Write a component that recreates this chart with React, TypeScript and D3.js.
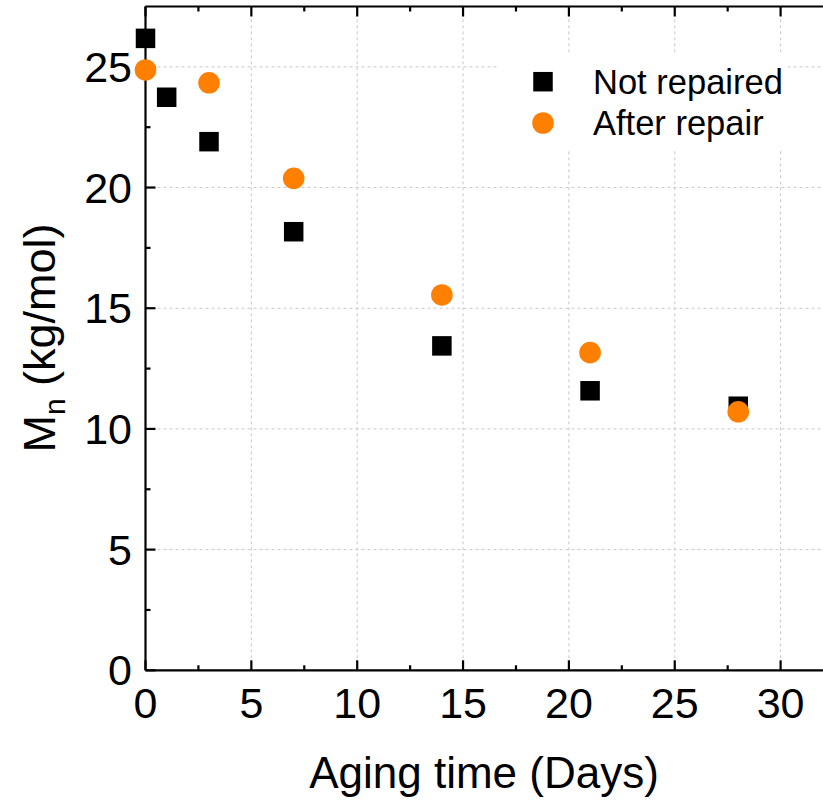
import React from 'react';
import * as d3 from 'd3';

// aging time in days, Mn in kg/mol
const daysNotRepaired = [0, 1, 3, 7, 14, 21, 28];
const mnNotRepaired = [26.18, 23.74, 21.9, 18.17, 13.44, 11.58, 10.94];
const daysAfterRepair = [0, 3, 7, 14, 21, 28];
const mnAfterRepair = [24.87, 24.34, 20.38, 15.55, 13.16, 10.71];
const xTicks = [0, 5, 10, 15, 20, 25, 30];
const yTicks = [0, 5, 10, 15, 20, 25];
const legendLabels = ['Not repaired', 'After repair'];

const W = 823;
const H = 804;
const font = '"Liberation Sans", Arial, Helvetica, sans-serif';
const orange = '#ff7f00';

const App = () => {
  const x = d3.scaleLinear().domain([0, 32]).range([145.5, 145.5 + 32 * 21.17]);
  const y = d3.scaleLinear().domain([0, 27.5]).range([670.3, 6.5]);
  const [x0, x1] = x.range();
  const [y0, y1] = y.range();

  const xMinor = d3.range(2.5, 32, 5);
  const yMinor = d3.range(2.5, 27.5, 5);

  const sq = 19.5;
  const r = 10.8;

  const notRepaired = daysNotRepaired.map((d, i) => ({ d, v: mnNotRepaired[i] }));
  const afterRepair = daysAfterRepair.map((d, i) => ({ d, v: mnAfterRepair[i] }));

  return (
    <svg width={W} height={H} style={{ position: 'absolute', left: 0, top: 0, background: '#fff' }} fontFamily={font}>
      {/* grid */}
      <g stroke="#c8c8c8" strokeWidth={1} strokeDasharray="3,3">
        {xTicks.filter(t => t > 0).map(t => (
          <line key={'gx' + t} x1={x(t)} x2={x(t)} y1={y0} y2={y1} />
        ))}
        {yTicks.filter(t => t > 0).map(t => (
          <line key={'gy' + t} x1={x0} x2={x1} y1={y(t)} y2={y(t)} />
        ))}
      </g>

      {/* legend */}
      <rect x={498} y={55} width={290} height={95} fill="#fff" />
      <rect x={543 - sq / 2} y={81.7 - sq / 2} width={sq} height={sq} fill="#000" />
      <circle cx={543} cy={123} r={r} fill={orange} />
      <text x={593} y={81.5} fontSize={34.5} dominantBaseline="central">{legendLabels[0]}</text>
      <text x={593} y={123} fontSize={34.5} dominantBaseline="central">{legendLabels[1]}</text>

      {/* frame + ticks */}
      <g stroke="#000" strokeWidth={2.2} fill="none">
        <line x1={x0} x2={x1} y1={y0} y2={y0} />
        <line x1={x0} x2={x1} y1={y1} y2={y1} />
        <line x1={x0} x2={x0} y1={y0} y2={y1} />
        {xTicks.map(t => (
          <g key={'xt' + t}>
            <line x1={x(t)} x2={x(t)} y1={y0} y2={y0 - 10} />
            <line x1={x(t)} x2={x(t)} y1={y1} y2={y1 + 10} />
          </g>
        ))}
        {xMinor.map(t => (
          <g key={'xm' + t}>
            <line x1={x(t)} x2={x(t)} y1={y0} y2={y0 - 5} />
            <line x1={x(t)} x2={x(t)} y1={y1} y2={y1 + 5} />
          </g>
        ))}
        {yTicks.map(t => (
          <line key={'yt' + t} x1={x0} x2={x0 + 10} y1={y(t)} y2={y(t)} />
        ))}
        {yMinor.map(t => (
          <line key={'ym' + t} x1={x0} x2={x0 + 5} y1={y(t)} y2={y(t)} />
        ))}
      </g>

      {/* tick labels */}
      {xTicks.map(t => (
        <text key={'xl' + t} x={x(t)} y={703} fontSize={43} textAnchor="middle" dominantBaseline="central">{t}</text>
      ))}
      {yTicks.map(t => (
        <text key={'yl' + t} x={132} y={y(t)} fontSize={43} textAnchor="end" dominantBaseline="central">{t}</text>
      ))}

      {/* axis titles */}
      <text x={484} y={788} fontSize={44} textAnchor="middle">Aging time (Days)</text>
      <text transform="translate(55,338) rotate(-90)" fontSize={45} textAnchor="middle">
        M<tspan fontSize={30} dy={10}>n</tspan><tspan dy={-10}> (kg/mol)</tspan>
      </text>

      {/* points */}
      {notRepaired.map((p, i) => (
        <rect key={'nr' + i} x={x(p.d) - sq / 2} y={y(p.v) - sq / 2} width={sq} height={sq} fill="#000" />
      ))}
      {afterRepair.map((p, i) => (
        <circle key={'ar' + i} cx={x(p.d)} cy={y(p.v)} r={r} fill={orange} />
      ))}
    </svg>
  );
};

export default App;
